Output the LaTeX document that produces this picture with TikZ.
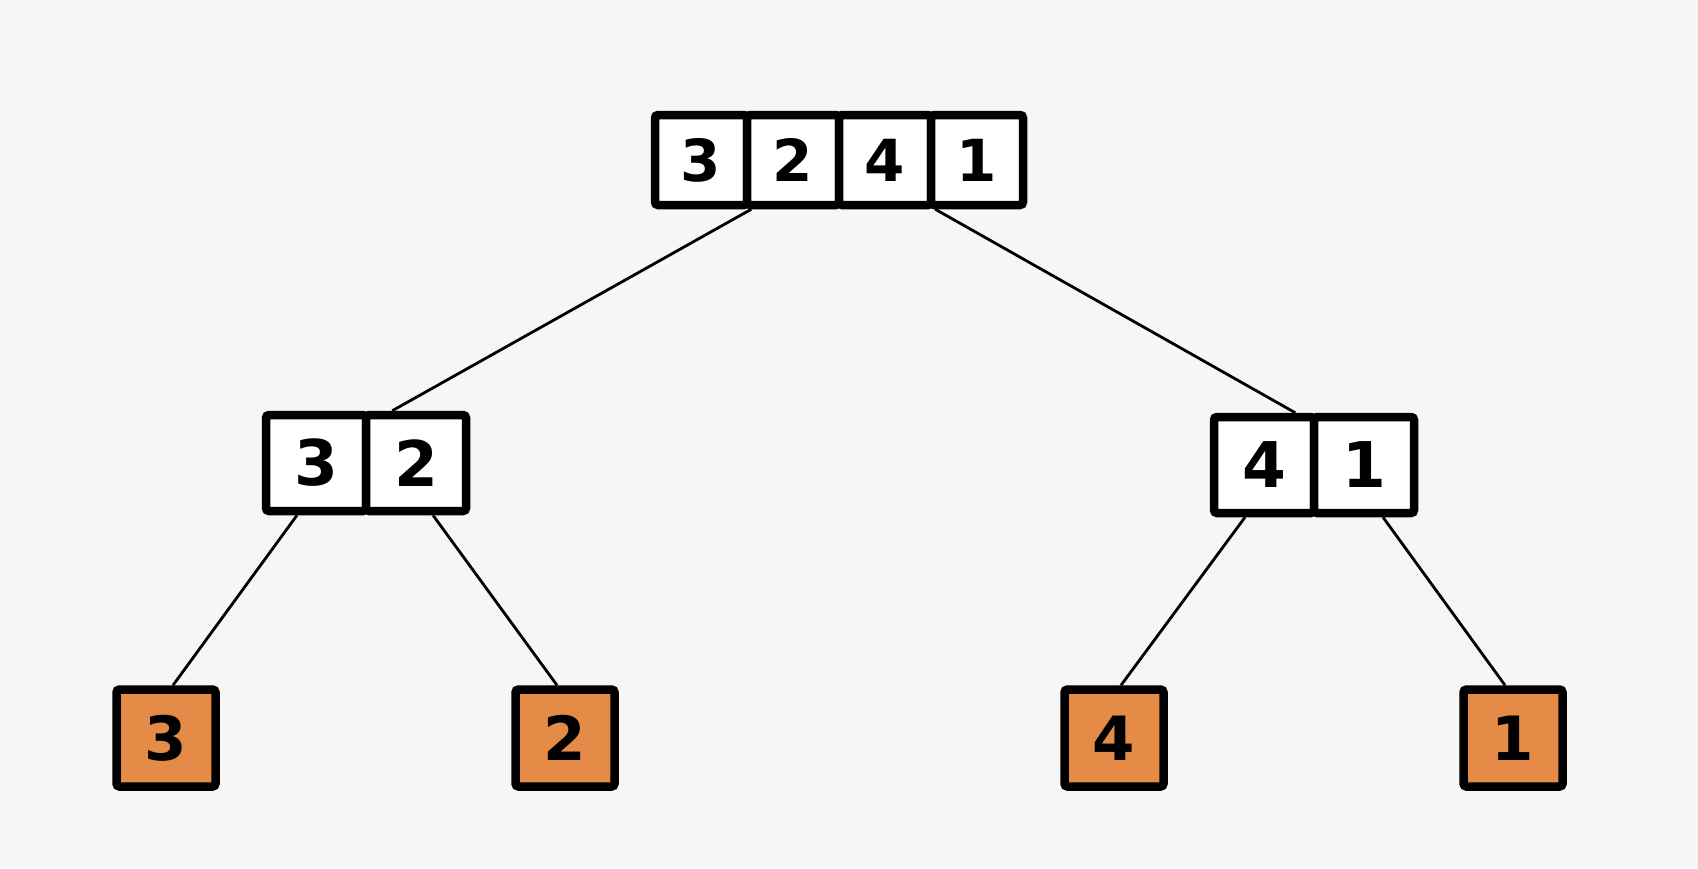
\documentclass[tikz,border=0pt]{standalone}
\usepackage{fontspec}
\setmainfont{DejaVu Sans}
\definecolor{paper}{HTML}{F6F6F4}
\definecolor{leaf}{HTML}{E38B47}
\begin{document}
\begin{tikzpicture}[x=1pt,y=-1pt,
  cell/.style={draw=black, fill=white, line width=8.5pt, rounded corners=3pt,
    inner sep=0pt, font=\bfseries\fontsize{58}{58}\selectfont},
  topcell/.style={cell, minimum width=92pt, minimum height=90pt},
  midcell/.style={cell, minimum width=100pt, minimum height=96pt, font=\bfseries\fontsize{63}{63}\selectfont},
  leafbox/.style={cell, fill=leaf, minimum width=99pt, minimum height=97pt, font=\bfseries\fontsize{61}{61}\selectfont},
  link/.style={draw=black, line width=2.8pt}]
% paper
\fill[paper] (0,0) rectangle (1698,868);
\useasboundingbox (0,0) rectangle (1698,868);

% root array
\node[topcell] (t0) at (701,160) {3};
\node[topcell] (t1) at (793,160) {2};
\node[topcell] (t2) at (885,160) {4};
\node[topcell] (t3) at (977,160) {1};

% second level
\node[midcell] (l0) at (316,463) {3};
\node[midcell] (l1) at (416,463) {2};
\node[midcell] (r0) at (1264,465) {4};
\node[midcell] (r1) at (1364,465) {1};

% single-element leaves
\node[leafbox] (a) at (166,738) {3};
\node[leafbox] (b) at (565,738) {2};
\node[leafbox] (c) at (1114,738) {4};
\node[leafbox] (d) at (1513,738) {1};

% splits
\draw[link] (t0.south east) -- ([xshift=22pt]l0.north east);
\draw[link] (t2.south east) -- ([xshift=-23pt]r0.north east);
\draw[link] ([xshift=-19pt]l0.south) -- ([xshift=7pt]a.north);
\draw[link] ([xshift=17pt]l1.south) -- ([xshift=-8pt]b.north);
\draw[link] ([xshift=-19pt]r0.south) -- ([xshift=7pt]c.north);
\draw[link] ([xshift=19pt]r1.south) -- ([xshift=-8pt]d.north);
\end{tikzpicture}
\end{document}
